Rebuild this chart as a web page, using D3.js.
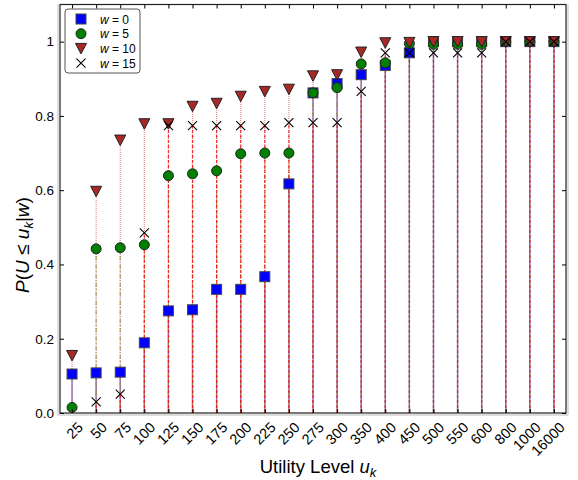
<!DOCTYPE html>
<html>
<head>
<meta charset="utf-8">
<script src="https://cdn.jsdelivr.net/npm/d3@7"></script>
<style>
  body { margin: 0; background: #fff; }
  svg { font-family: "Liberation Sans", Arial, sans-serif; }
</style>
</head>
<body>
<div id="chart"></div>
<script>
// utility levels u_k (categorical x axis)
const levels = ["25","50","75","100","125","150","175","200","225","250","275","300",
                "350","400","450","500","550","600","800","1000","16000"];

// P(U <= u_k | w) per wealth level
const w0  = [0.105,0.108,0.110,0.189,0.275,0.278,0.333,0.333,0.367,0.617,0.862,0.887,
             0.911,0.936,0.970,1.0,1.0,1.0,1.0,1.0,1.0];
const w5  = [0.015,0.442,0.445,0.453,0.639,0.644,0.652,0.698,0.700,0.700,0.862,0.876,
             0.940,0.943,0.995,0.993,0.993,0.993,1.0,1.0,1.0];
const w10 = [0.155,0.597,0.735,0.779,0.779,0.826,0.834,0.853,0.866,0.872,0.908,0.911,
             0.972,0.997,0.998,1.0,1.0,1.0,1.0,1.0,1.0];
const w15 = [0.0,0.030,0.051,0.485,0.774,0.774,0.774,0.774,0.774,0.782,0.782,0.782,
             0.866,0.970,0.970,0.970,0.970,0.970,1.0,1.0,1.0];

const yTicks = [0, 0.2, 0.4, 0.6, 0.8, 1];

const W = 578, H = 480;
const mLeft = 60, mRight = 566, mTop = 4.5, mBottom = 413;

const svg = d3.select('#chart')
  .append('svg')
  .attr('width', W)
  .attr('height', H);

const x = d3.scalePoint()
  .domain(levels)
  .range([mLeft, mRight])
  .padding(0.5);

const y = d3.scaleLinear()
  .domain([0, 1.1])
  .range([mBottom, mTop]);

const series = [
  {name: "0",  vals: w0,  shape: "square",   fill: "#0000ff",
   line: "#6a5acd", dash: null,      op: 0.9, sw: 1.4},
  {name: "5",  vals: w5,  shape: "circle",   fill: "#008000",
   line: "#7a9a2a", dash: "4,2,1,2", op: 0.8, sw: 1.2},
  {name: "10", vals: w10, shape: "triangle", fill: "#a82828",
   line: "#e07070", dash: "1,1",     op: 0.8, sw: 1.2},
  {name: "15", vals: w15, shape: "cross",    fill: "#000",
   line: "#ff0000", dash: "3,2",     op: 0.8, sw: 1.2}
];

// stems first
series.forEach(s => {
  svg.append('g')
    .selectAll('line')
    .data(levels)
    .join('line')
      .attr('x1', d => x(d))
      .attr('x2', d => x(d))
      .attr('y1', y(0))
      .attr('y2', (d, i) => y(s.vals[i]))
      .attr('stroke', s.line)
      .attr('stroke-width', s.sw)
      .attr('stroke-opacity', s.op)
      .attr('stroke-dasharray', s.dash);
});

function drawMarker(g, shape, fill, cx, cy) {
  if (shape === "square") {
    g.append('rect').attr('x', cx - 5).attr('y', cy - 5).attr('width', 10).attr('height', 10)
      .attr('fill', fill).attr('stroke', '#444').attr('stroke-width', 1);
  } else if (shape === "circle") {
    g.append('circle').attr('cx', cx).attr('cy', cy).attr('r', 5)
      .attr('fill', fill).attr('stroke', '#222').attr('stroke-width', 1);
  } else if (shape === "triangle") {
    g.append('path')
      .attr('d', `M${cx - 5.5},${cy - 5}L${cx + 5.5},${cy - 5}L${cx},${cy + 5.5}Z`)
      .attr('fill', fill).attr('stroke', '#222').attr('stroke-width', 1);
  } else {
    g.append('path')
      .attr('d', `M${cx - 4.5},${cy - 4.5}L${cx + 4.5},${cy + 4.5}M${cx - 4.5},${cy + 4.5}L${cx + 4.5},${cy - 4.5}`)
      .attr('stroke', fill).attr('stroke-width', 1.1).attr('fill', 'none');
  }
}

// markers on top (a zero value sits on the axis and is not shown)
const markG = svg.append('g');
series.forEach(s => {
  levels.forEach((d, i) => {
    if (s.vals[i] > 0) drawMarker(markG, s.shape, s.fill, x(d), y(s.vals[i]));
  });
});

// frame
svg.append('rect')
  .attr('x', mLeft).attr('y', mTop)
  .attr('width', mRight - mLeft).attr('height', mBottom - mTop)
  .attr('fill', 'none').attr('stroke', '#222').attr('stroke-width', 1.2);
svg.append('path')
  .attr('d', `M${mLeft - 2},${mTop}V${mBottom + 2}H${mRight + 2}V${mTop}`)
  .attr('fill', 'none').attr('stroke', '#bbb').attr('stroke-width', 1);

// y axis (ticks inward) + mirrored ticks on right
svg.append('g')
  .attr('transform', `translate(${mLeft},0)`)
  .style('font-size', '13.5px')
  .call(d3.axisLeft(y).tickValues(yTicks).tickSizeInner(-4).tickSizeOuter(0).tickPadding(6)
        .tickFormat(d => d === 1 ? "1" : d3.format(".1f")(d)))
  .call(g => g.select('.domain').remove())
  .call(g => g.selectAll('text').attr('fill', '#000'));

svg.append('g')
  .attr('transform', `translate(${mRight},0)`)
  .call(d3.axisRight(y).tickValues(yTicks).tickSizeInner(-4).tickSizeOuter(0).tickFormat(''))
  .call(g => g.select('.domain').remove());

// x axis bottom with rotated labels
const xAxis = svg.append('g')
  .attr('transform', `translate(0,${mBottom})`)
  .style('font-size', '14.5px')
  .call(d3.axisBottom(x).tickSizeInner(-4).tickSizeOuter(0).tickPadding(6));
xAxis.select('.domain').remove();
xAxis.selectAll('text')
  .attr('fill', '#000')
  .attr('dy', null)
  .attr('y', 0)
  .attr('transform', 'translate(4,8) rotate(-45)')
  .style('text-anchor', 'end')
  .attr('dominant-baseline', 'hanging');

svg.append('g')
  .attr('transform', `translate(0,${mTop})`)
  .call(d3.axisTop(x).tickSizeInner(-4).tickSizeOuter(0).tickFormat(''))
  .call(g => g.select('.domain').remove());

// axis titles
svg.append('text')
  .attr('x', 318).attr('y', 473)
  .attr('text-anchor', 'middle')
  .style('font-size', '18.5px')
  .html('Utility Level <tspan font-style="italic">u</tspan><tspan font-style="italic" font-size="13px" dy="4">k</tspan>');

svg.append('text')
  .attr('transform', 'translate(29,245) rotate(-90)')
  .attr('text-anchor', 'middle')
  .style('font-size', '19px')
  .html('<tspan font-style="italic">P</tspan>(<tspan font-style="italic">U</tspan> ≤ <tspan font-style="italic">u</tspan><tspan font-style="italic" font-size="13px" dy="4">k</tspan><tspan dy="-4">|</tspan><tspan font-style="italic">w</tspan>)');

// legend
const leg = svg.append('g');
leg.append('rect')
  .attr('x', 65).attr('y', 9).attr('width', 75).attr('height', 64)
  .attr('rx', 3)
  .attr('fill', '#fff').attr('stroke', '#555').attr('stroke-width', 1);
series.forEach((s, i) => {
  const ry = 19 + i * 14.7;
  drawMarker(leg, s.shape, s.fill, 81, ry);
  leg.append('text')
    .attr('x', 100).attr('y', ry + 4.5)
    .style('font-size', '12px')
    .html(`<tspan font-style="italic">w</tspan> = ${s.name}`);
});
</script>
</body>
</html>
